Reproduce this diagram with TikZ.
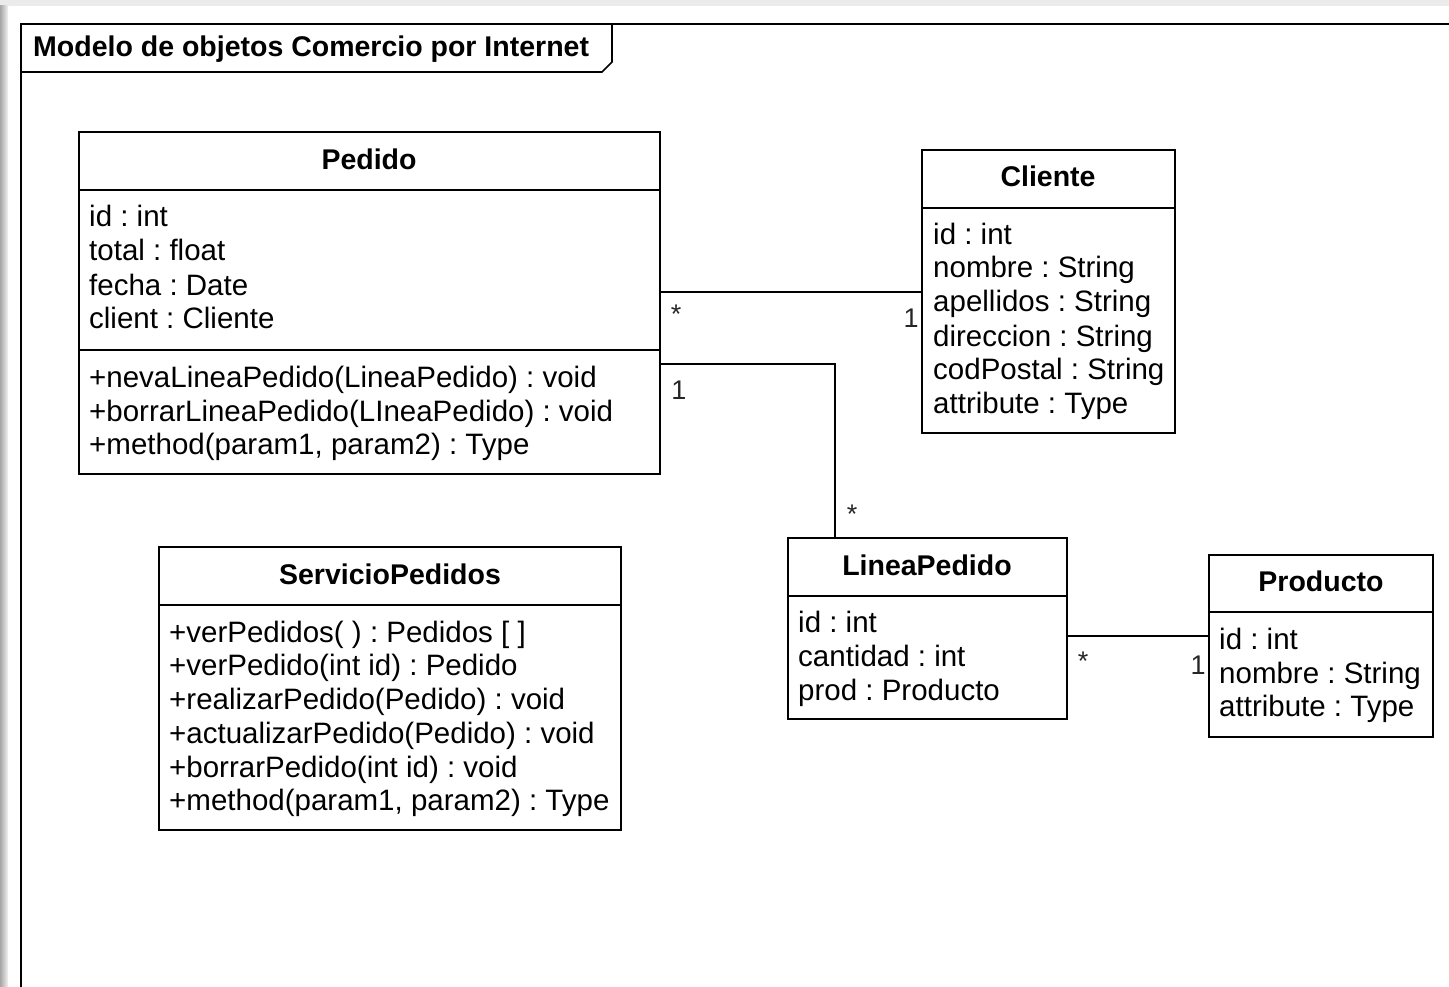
\documentclass[tikz,border=0pt]{standalone}
\usepackage{fontspec}
\setmainfont{Liberation Sans}
\frenchspacing
\begin{document}
\begin{tikzpicture}[x=1pt,y=-1pt,
  box/.style={draw,line width=1.6pt,fill=white,inner sep=0pt,outer sep=0pt,anchor=north west},
  txt/.style={anchor=base west,inner sep=0pt,font=\fontsize{29.5}{32}\selectfont},
  ttl/.style={anchor=base,inner sep=0pt,font=\fontsize{28.5}{32}\selectfont\bfseries},
  mult/.style={inner sep=0pt,font=\fontsize{27}{30}\selectfont,text=black!85},
  conn/.style={line width=1.6pt},
  divl/.style={line width=1.6pt}]
\useasboundingbox (0,0) rectangle (1449,987);
% page shadow
\fill[black!8] (0,0) rectangle (1449,6);
\shade[left color=black!35,right color=black!5] (0,6) rectangle (8,987);
% frame
\draw[line width=1.6pt] (1449,24) -- (21,24) -- (21,987);
\draw[line width=1.6pt] (21,72) -- (602,72) -- (612,62) -- (612,24);
\node[anchor=base west,inner sep=0pt,font=\fontsize{28.5}{32}\selectfont\bfseries] (frametitle) at (33,57) {Modelo de objetos Comercio por Internet};

% Pedido
\node[box,minimum width=581pt,minimum height=342pt] (pedido) at (79,132) {};
\draw[divl] (pedido.west |- 0,190) -- (pedido.east |- 0,190);
\draw[divl] (pedido.west |- 0,350) -- (pedido.east |- 0,350);
\node[ttl] (pedidoT) at (369,170) {Pedido};
\node[txt] (pedidoA1) at (89,227) {id : int};
\node[txt] (pedidoA2) at (89,261) {total : float};
\node[txt] (pedidoA3) at (89,295) {fecha : Date};
\node[txt] (pedidoA4) at (89,328) {client : Cliente};
\node[txt] (pedidoM1) at (89,387) {+nevaLineaPedido(LineaPedido) : void};
\node[txt] (pedidoM2) at (89,421) {+borrarLineaPedido(LIneaPedido) : void};
\node[txt] (pedidoM3) at (89,454) {+method(param1, param2) : Type};

% Cliente
\node[box,minimum width=253pt,minimum height=283pt] (cliente) at (922,150) {};
\draw[divl] (cliente.west |- 0,208) -- (cliente.east |- 0,208);
\node[ttl] (clienteT) at (1048,187) {Cliente};
\node[txt] (clienteA1) at (933,245) {id : int};
\node[txt] (clienteA2) at (933,278) {nombre : String};
\node[txt] (clienteA3) at (933,312) {apellidos : String};
\node[txt] (clienteA4) at (933,346) {direccion : String};
\node[txt] (clienteA5) at (933,379) {codPostal : String};
\node[txt] (clienteA6) at (933,413) {attribute : Type};

% ServicioPedidos
\node[box,minimum width=462pt,minimum height=283pt] (servicio) at (159,547) {};
\draw[divl] (servicio.west |- 0,605) -- (servicio.east |- 0,605);
\node[ttl] (servicioT) at (390,584) {ServicioPedidos};
\node[txt] (servicioM1) at (169,642) {+verPedidos( ) : Pedidos [ ]};
\node[txt] (servicioM2) at (169,675) {+verPedido(int id) : Pedido};
\node[txt] (servicioM3) at (169,709) {+realizarPedido(Pedido) : void};
\node[txt] (servicioM4) at (169,743) {+actualizarPedido(Pedido) : void};
\node[txt] (servicioM5) at (169,777) {+borrarPedido(int id) : void};
\node[txt] (servicioM6) at (169,810) {+method(param1, param2) : Type};

% LineaPedido
\node[box,minimum width=279pt,minimum height=181pt] (linea) at (788,538) {};
\draw[divl] (linea.west |- 0,596) -- (linea.east |- 0,596);
\node[ttl] (lineaT) at (927,575) {LineaPedido};
\node[txt] (lineaA1) at (798,632) {id : int};
\node[txt] (lineaA2) at (798,666) {cantidad : int};
\node[txt] (lineaA3) at (798,700) {prod : Producto};

% Producto
\node[box,minimum width=224pt,minimum height=182pt] (producto) at (1209,555) {};
\draw[divl] (producto.west |- 0,612) -- (producto.east |- 0,612);
\node[ttl] (productoT) at (1321,591) {Producto};
\node[txt] (productoA1) at (1219,649) {id : int};
\node[txt] (productoA2) at (1219,683) {nombre : String};
\node[txt] (productoA3) at (1219,716) {attribute : Type};

% connectors
\draw[conn] (pedido.east |- 0,292) -- (cliente.west |- 0,292);
\draw[conn] (pedido.east |- 0,364) -| (linea.north west -| 835,0);
\draw[conn] (linea.east |- 0,636) -- (producto.west |- 0,636);

% multiplicities
\node[mult] (m1) at (676,314) {*};
\node[mult] (m2) at (911,318) {1};
\node[mult] (m3) at (679,390) {1};
\node[mult] (m4) at (852,514) {*};
\node[mult] (m5) at (1083,661) {*};
\node[mult] (m6) at (1198,665) {1};
\end{tikzpicture}
\end{document}
